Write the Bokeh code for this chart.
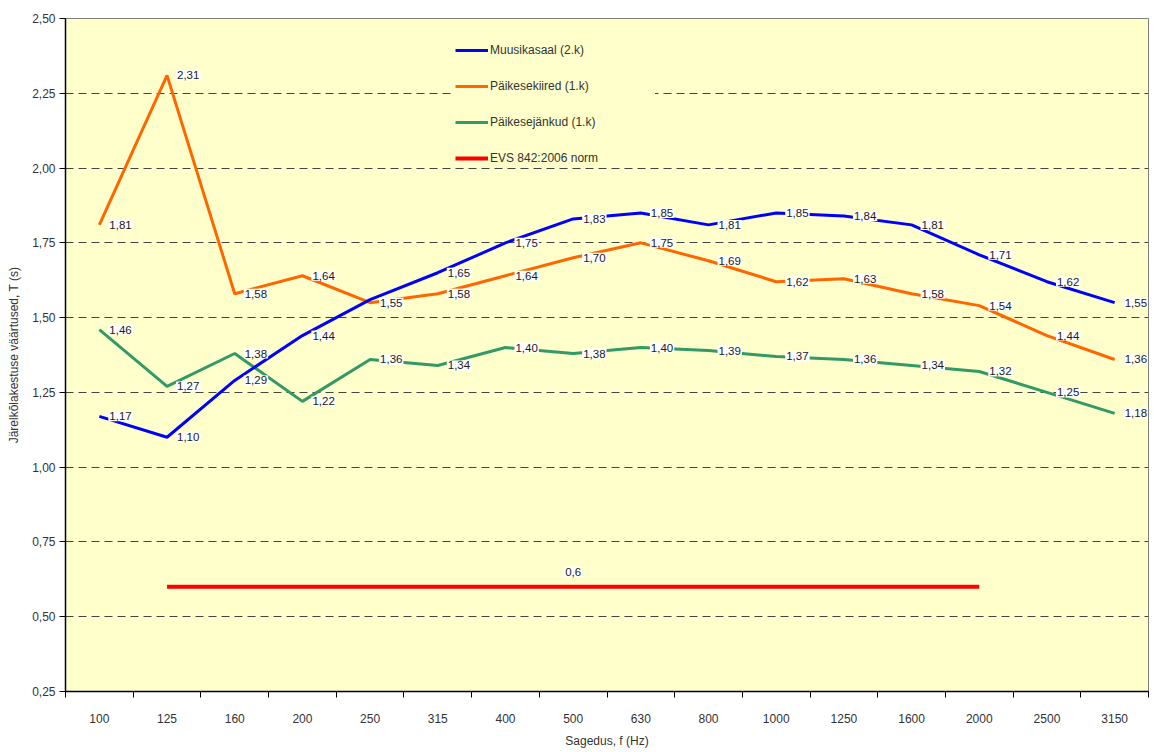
from bokeh.plotting import figure
from bokeh.models import (ColumnDataSource, Range1d, FixedTicker,
                          Legend, LegendItem)
from bokeh.core.properties import value
from bokeh.embed import file_html
from bokeh.resources import INLINE

# ---------------- data ----------------
freqs = ["100", "125", "160", "200", "250", "315", "400", "500", "630",
         "800", "1000", "1250", "1600", "2000", "2500", "3150"]
muusikasaal = [1.17, 1.10, 1.29, 1.44, 1.56, 1.65, 1.75, 1.83, 1.85,
               1.81, 1.85, 1.84, 1.81, 1.71, 1.62, 1.55]
paikesekiired = [1.81, 2.31, 1.58, 1.64, 1.55, 1.58, 1.64, 1.70, 1.75,
                 1.69, 1.62, 1.63, 1.58, 1.54, 1.44, 1.36]
paikesejankud = [1.46, 1.27, 1.38, 1.22, 1.36, 1.34, 1.40, 1.38, 1.40,
                 1.39, 1.37, 1.36, 1.34, 1.32, 1.25, 1.18]
norm_freqs = ["125", "160", "200", "250", "315", "400", "500", "630",
              "800", "1000", "1250", "1600", "2000"]
norm_values = [0.6] * len(norm_freqs)
norm_label_freq = "500"
muusikasaal_hidden_labels = ["250"]

y_ticks = [0.25, 0.50, 0.75, 1.00, 1.25, 1.50, 1.75, 2.00, 2.25, 2.50]
y_tick_labels = ["0,25", "0,50", "0,75", "1,00", "1,25", "1,50", "1,75",
                 "2,00", "2,25", "2,50"]

series_names = ["Muusikasaal (2.k)", "Päikesekiired (1.k)",
                "Päikesejänkud (1.k)", "EVS 842:2006 norm"]
colors = ["#0000FF", "#FF6600", "#339966", "#FF0000"]

FONT = "Liberation Sans"
TXT = "#1a1a1a"

# ------------- helpers ---------------
pos = {f: i + 0.5 for i, f in enumerate(freqs)}


def fmt(v, nd=2):
    return f"{v:.{nd}f}".replace(".", ",")


def make_src(fr, vals, hidden=()):
    return ColumnDataSource(dict(
        x=[pos[f] for f in fr], y=vals,
        lab=[("" if f in hidden else fmt(v)) for f, v in zip(fr, vals)]))


p = figure(width=1152, height=750, output_backend="svg",
           toolbar_location=None,
           x_range=Range1d(0, len(freqs)), y_range=Range1d(0.25, 2.5),
           min_border_left=65, min_border_right=4, min_border_top=18,
           min_border_bottom=59)

p.background_fill_color = "#FFFFCC"
p.border_fill_color = "white"
p.outline_line_color = "#808080"
p.outline_line_width = 1

# axes
p.xaxis.ticker = FixedTicker(ticks=[pos[f] for f in freqs],
                             minor_ticks=list(range(len(freqs) + 1)))
p.xaxis.major_label_overrides = {pos[f]: f for f in freqs}
p.xaxis.major_tick_line_color = None
p.xaxis.major_tick_out = 0
p.xaxis.major_tick_in = 0
p.xaxis.minor_tick_line_color = "black"
p.xaxis.minor_tick_out = 6
p.xaxis.minor_tick_in = 0
p.xaxis.major_label_standoff = 16
p.xaxis.axis_label = "Sagedus, f (Hz)"
p.xaxis.axis_label_standoff = 8

p.yaxis.ticker = FixedTicker(ticks=y_ticks)
p.yaxis.major_label_overrides = {t: l for t, l in zip(y_ticks, y_tick_labels)}
p.yaxis.minor_tick_line_color = None
p.yaxis.major_tick_out = 6
p.yaxis.major_tick_in = 0
p.yaxis.major_tick_line_color = "black"
p.yaxis.major_label_standoff = 4
p.yaxis.axis_label = "Järelkõlakestuse väärtused, T (s)"
p.yaxis.axis_label_standoff = 8

for ax in (p.xaxis[0], p.yaxis[0]):
    ax.axis_line_color = "black"
    ax.axis_line_width = 1.5
    ax.major_label_text_font = FONT
    ax.major_label_text_font_size = "12px"
    ax.major_label_text_color = "#333333"
    ax.axis_label_text_font = FONT
    ax.axis_label_text_font_size = "12px"
    ax.axis_label_text_font_style = "normal"
    ax.axis_label_text_color = "#333333"

# grids
p.xgrid.grid_line_color = None
p.ygrid.ticker = FixedTicker(ticks=y_ticks[1:-1])
p.ygrid.grid_line_color = "#444444"
p.ygrid.grid_line_dash = "8 5"
p.ygrid.grid_line_width = 1.2

# lines
src_norm = ColumnDataSource(dict(x=[pos[f] for f in norm_freqs], y=norm_values))
r_norm = p.line("x", "y", source=src_norm, line_color=colors[3], line_width=4)

src_g = make_src(freqs, paikesejankud)
r_g = p.line("x", "y", source=src_g, line_color=colors[2], line_width=3)
src_o = make_src(freqs, paikesekiired)
r_o = p.line("x", "y", source=src_o, line_color=colors[1], line_width=3)
src_b = make_src(freqs, muusikasaal, muusikasaal_hidden_labels)
r_b = p.line("x", "y", source=src_b, line_color=colors[0], line_width=3)

# value labels (text glyphs with white boxes)
for src in (src_g, src_o, src_b):
    p.text(x="x", y="y", text="lab", source=src,
           x_offset=9, y_offset=0, text_baseline="middle",
           text_align="left", text_font=value(FONT),
           text_font_size=value("11.5px"), text_color=TXT,
           background_fill_color="white", background_fill_alpha=1.0,
           padding=1)

src_nl = ColumnDataSource(dict(x=[pos[norm_label_freq]],
                               y=[norm_values[norm_freqs.index(norm_label_freq)]],
                               lab=[fmt(norm_values[0], 1)]))
p.text(x="x", y="y", text="lab", source=src_nl,
       x_offset=0, y_offset=-15, text_baseline="middle",
       text_align="center", text_font=value(FONT),
       text_font_size=value("11.5px"), text_color=TXT,
       background_fill_color="white", background_fill_alpha=1.0,
       padding=1)

# legend
legend = Legend(items=[LegendItem(label=series_names[0], renderers=[r_b]),
                       LegendItem(label=series_names[1], renderers=[r_o]),
                       LegendItem(label=series_names[2], renderers=[r_g]),
                       LegendItem(label=series_names[3], renderers=[r_norm])],
                location=(390, 523), orientation="vertical")
legend.background_fill_color = "#FFFFCC"
legend.background_fill_alpha = 1.0
legend.border_line_color = None
legend.padding = 18
legend.spacing = 16
legend.label_height = 20
legend.glyph_height = 20
legend.glyph_width = 33
legend.label_standoff = 2
legend.label_width = 165
legend.label_text_font = FONT
legend.label_text_font_size = "12px"
legend.label_text_color = "#333333"
legend.margin = 0
p.add_layout(legend, "center")

open("out.html", "w").write(file_html(p, INLINE))
